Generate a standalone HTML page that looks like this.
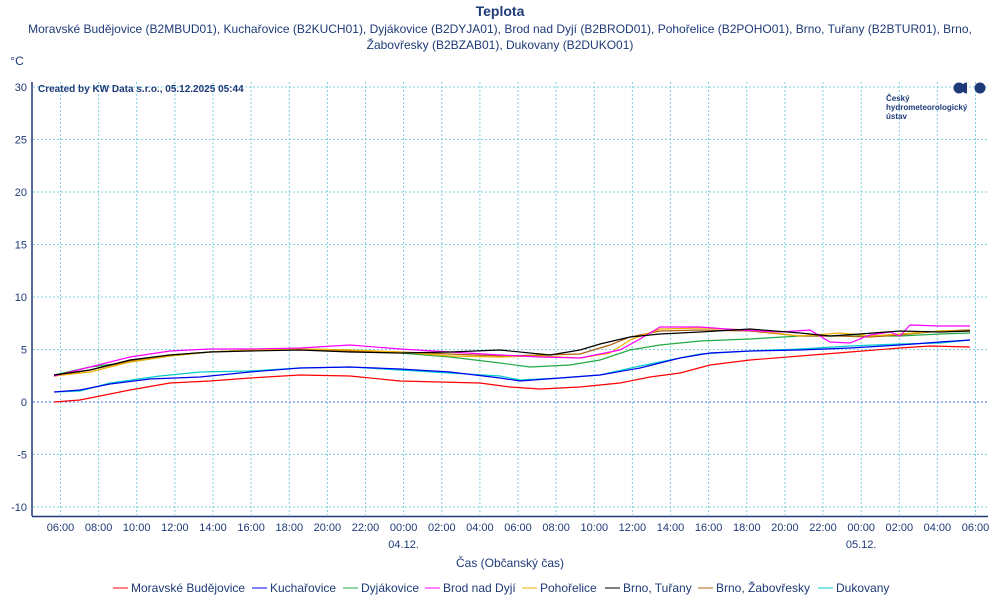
<!DOCTYPE html><html><head><meta charset="utf-8"><style>body{margin:0;background:#fff}svg{display:block;font-family:"Liberation Sans",sans-serif}</style></head><body>
<svg width="1000" height="600" xmlns="http://www.w3.org/2000/svg">
<g fill="#1e3a78" text-anchor="middle">
<text x="500" y="16" font-size="14" font-weight="bold">Teplota</text>
<text x="500" y="33" font-size="12">Moravské Budějovice (B2MBUD01), Kuchařovice (B2KUCH01), Dyjákovice (B2DYJA01), Brod nad Dyjí (B2BROD01), Pohořelice (B2POHO01), Brno, Tuřany (B2BTUR01), Brno,</text>
<text x="500" y="49" font-size="12">Žabovřesky (B2BZAB01), Dukovany (B2DUKO01)</text>
<text x="17" y="65" font-size="12">°C</text>
</g>
<g stroke="#7fd0e0" stroke-dasharray="2,2" stroke-width="1">
<line x1="33" x2="987" y1="87" y2="87"/><line x1="33" x2="987" y1="139.5" y2="139.5"/><line x1="33" x2="987" y1="192" y2="192"/><line x1="33" x2="987" y1="244.5" y2="244.5"/><line x1="33" x2="987" y1="297" y2="297"/><line x1="33" x2="987" y1="349.5" y2="349.5"/><line x1="33" x2="987" y1="454.5" y2="454.5"/><line x1="33" x2="987" y1="507" y2="507"/>
</g>
<line x1="33" x2="987" y1="402" y2="402" stroke="#3a6ae0" stroke-dasharray="2,2"/>
<g stroke="#7fd0e0" stroke-dasharray="2,2">
<line x1="60.5" x2="60.5" y1="82" y2="515"/><line x1="98.6" x2="98.6" y1="82" y2="515"/><line x1="136.7" x2="136.7" y1="82" y2="515"/><line x1="174.9" x2="174.9" y1="82" y2="515"/><line x1="213" x2="213" y1="82" y2="515"/><line x1="251.1" x2="251.1" y1="82" y2="515"/><line x1="289.3" x2="289.3" y1="82" y2="515"/><line x1="327.4" x2="327.4" y1="82" y2="515"/><line x1="365.5" x2="365.5" y1="82" y2="515"/><line x1="403.6" x2="403.6" y1="82" y2="515"/><line x1="441.8" x2="441.8" y1="82" y2="515"/><line x1="479.9" x2="479.9" y1="82" y2="515"/><line x1="518" x2="518" y1="82" y2="515"/><line x1="556.1" x2="556.1" y1="82" y2="515"/><line x1="594.3" x2="594.3" y1="82" y2="515"/><line x1="632.4" x2="632.4" y1="82" y2="515"/><line x1="670.5" x2="670.5" y1="82" y2="515"/><line x1="708.6" x2="708.6" y1="82" y2="515"/><line x1="746.8" x2="746.8" y1="82" y2="515"/><line x1="784.9" x2="784.9" y1="82" y2="515"/><line x1="823" x2="823" y1="82" y2="515"/><line x1="861.2" x2="861.2" y1="82" y2="515"/><line x1="899.3" x2="899.3" y1="82" y2="515"/><line x1="937.4" x2="937.4" y1="82" y2="515"/><line x1="975.5" x2="975.5" y1="82" y2="515"/>
</g>
<g stroke="#1e3a78" stroke-width="1.5"><line x1="32" x2="32" y1="82" y2="516"/><line x1="32" x2="988" y1="516.5" y2="516.5"/></g>
<g fill="#1e3a78" font-size="11" text-anchor="end">
<text x="27" y="91">30</text><text x="27" y="143.5">25</text><text x="27" y="196">20</text><text x="27" y="248.5">15</text><text x="27" y="301">10</text><text x="27" y="353.5">5</text><text x="27" y="406">0</text><text x="27" y="458.5">-5</text><text x="27" y="511">-10</text>
</g>
<g fill="#1e3a78" font-size="11" text-anchor="middle">
<text x="60.5" y="531">06:00</text><text x="98.6" y="531">08:00</text><text x="136.7" y="531">10:00</text><text x="174.9" y="531">12:00</text><text x="213" y="531">14:00</text><text x="251.1" y="531">16:00</text><text x="289.3" y="531">18:00</text><text x="327.4" y="531">20:00</text><text x="365.5" y="531">22:00</text><text x="403.6" y="531">00:00</text><text x="441.8" y="531">02:00</text><text x="479.9" y="531">04:00</text><text x="518" y="531">06:00</text><text x="556.1" y="531">08:00</text><text x="594.3" y="531">10:00</text><text x="632.4" y="531">12:00</text><text x="670.5" y="531">14:00</text><text x="708.6" y="531">16:00</text><text x="746.8" y="531">18:00</text><text x="784.9" y="531">20:00</text><text x="823" y="531">22:00</text><text x="861.2" y="531">00:00</text><text x="899.3" y="531">02:00</text><text x="937.4" y="531">04:00</text><text x="975.5" y="531">06:00</text>
<text x="403.6" y="548">04.12.</text><text x="861.2" y="548">05.12.</text>
<text x="510" y="567" font-size="12">Čas (Občanský čas)</text>
</g>
<text x="38" y="92" font-size="10" font-weight="bold" fill="#1e3a78">Created by KW Data s.r.o., 05.12.2025 05:44</text>
<g fill="#1e3a78"><circle cx="959" cy="88" r="5.5"/><path d="M967 82.5 a5.5 5.5 0 0 0 0 11z"/><circle cx="980" cy="88" r="5.5"/></g>
<g fill="#1e3a78" font-size="8" font-weight="bold"><text x="886" y="101">Český</text><text x="886" y="110">hydrometeorologický</text><text x="886" y="119">ústav</text></g>
<g fill="none" stroke-width="1.2">
<polyline stroke="#ff0000" points="54,402 80,400 100,396 130,390 170,383 210,381 250,378 300,375 350,376 400,381 480,383 510,387 540,389 580,387 620,383 650,377 680,373 710,365 750,360 800,356 850,352 900,348 930,346 970,347"/>
<polyline stroke="#00cccc" points="54,392 80,391 110,383 160,376 200,372 250,371 300,368 350,367 400,370 450,373 500,376 520,380 560,378 600,375 640,366 680,358 700,354 750,351 800,349 850,346 900,344 940,343 970,340"/>
<polyline stroke="#0000ee" points="54,392 80,390 110,384 150,379 200,377 250,372 300,368 350,367 400,369 450,372 500,378 520,381 560,378 600,375 640,368 680,358 710,353 750,351 800,350 850,348 900,345 940,342 970,340"/>
<polyline stroke="#22aa44" points="54,375 90,367 130,362 170,356 210,352 250,350 300,349 350,350 400,353 450,357 500,363 530,367 570,365 600,360 630,350 660,345 700,341 750,339 800,336 850,336 900,336 940,334 970,333"/>
<polyline stroke="#b06010" points="54,376 90,370 130,361 170,355 210,352 250,350 300,349 350,351 400,352 450,354 500,356 540,355 580,354 610,345 630,337 660,331 700,330 750,331 800,336 840,336 870,337 900,335 940,331 970,330"/>
<polyline stroke="#f0b000" points="54,376 90,372 130,362 170,356 210,352 250,350 300,349 350,350 400,352 450,356 500,357 540,356 580,358 610,353 630,340 660,329 700,328 750,330 800,336 840,333 870,336 900,334 940,331 970,331"/>
<polyline stroke="#ff00ff" points="54,376 90,367 130,357 170,351 210,349 250,349 300,348 350,345 400,349 450,352 500,355 540,357 580,358 620,350 640,339 660,327 700,327 740,330 780,332 810,330 830,342 850,343 870,335 890,332 900,336 910,325 940,326 970,326"/>
<polyline stroke="#000000" points="54,375 90,370 130,360 170,355 210,352 250,351 300,350 350,352 400,353 450,352 500,350 550,355 580,350 600,344 630,337 660,334 700,332 750,329 800,333 830,336 860,334 900,331 940,332 970,331"/>
</g>
<g font-size="12" fill="#1e3a78">
<line x1="113" x2="128" y1="588" y2="588" stroke="#ff0000"/><text x="131" y="592">Moravské Budějovice</text>
<line x1="252" x2="267" y1="588" y2="588" stroke="#0000ee"/><text x="270" y="592">Kuchařovice</text>
<line x1="343" x2="358" y1="588" y2="588" stroke="#22aa44"/><text x="361" y="592">Dyjákovice</text>
<line x1="425" x2="440" y1="588" y2="588" stroke="#ff00ff"/><text x="443" y="592">Brod nad Dyjí</text>
<line x1="522" x2="537" y1="588" y2="588" stroke="#f0b000"/><text x="540" y="592">Pohořelice</text>
<line x1="605" x2="620" y1="588" y2="588" stroke="#000"/><text x="623" y="592">Brno, Tuřany</text>
<line x1="698" x2="713" y1="588" y2="588" stroke="#b06010"/><text x="716" y="592">Brno, Žabovřesky</text>
<line x1="818" x2="833" y1="588" y2="588" stroke="#00cccc"/><text x="836" y="592">Dukovany</text>
</g>
</svg>
</body></html>
